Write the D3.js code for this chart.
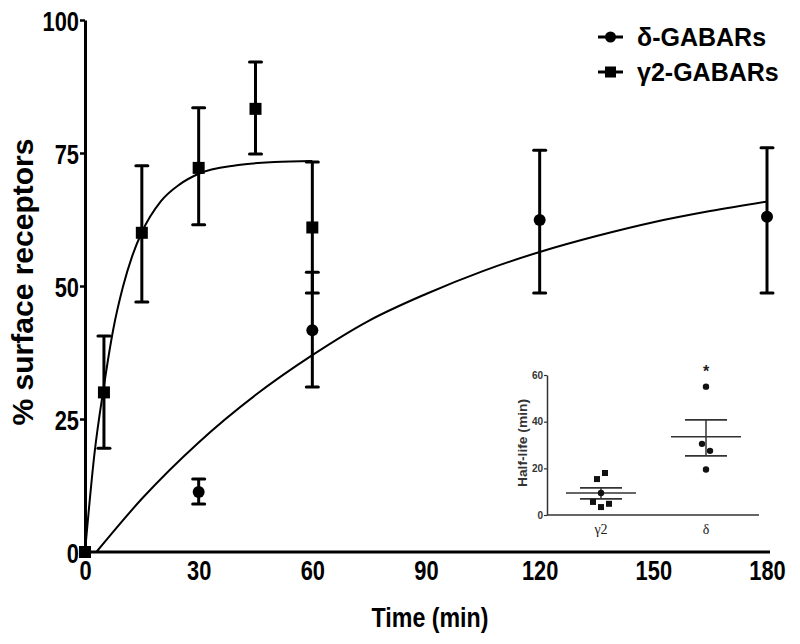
<!DOCTYPE html>
<html>
<head>
<meta charset="utf-8">
<script src="https://cdn.jsdelivr.net/npm/d3@7"></script>
<style>
  html, body { margin: 0; padding: 0; background: #fff; }
  svg { display: block; }
  .narrow { font-family: "Liberation Sans Narrow", "Arial Narrow", "Liberation Sans", Arial, sans-serif; font-weight: bold; }
  .wide { font-family: "Liberation Sans", Arial, sans-serif; font-weight: bold; }
  .serif { font-family: "Liberation Serif", "Times New Roman", serif; }
</style>
</head>
<body>
<script>
// ---------- Data ----------
const xTicks = [0, 30, 60, 90, 120, 150, 180];
const yTicks = [0, 25, 50, 75, 100];

// gamma2-GABARs (squares)
const gammaTime = [0, 5, 15, 30, 45, 60];
const gammaMean = [0, 30, 60, 72.2, 83.3, 61];
const gammaLow  = [0, 19.5, 47, 61.5, 74.8, 48.7];
const gammaHigh = [0, 40.6, 72.6, 83.5, 92.1, 73.3];

// delta-GABARs (circles)
const deltaTime = [0, 30, 60, 120, 180];
const deltaMean = [0, 11.3, 41.7, 62.4, 63];
const deltaLow  = [0, 9, 31, 48.7, 48.7];
const deltaHigh = [0, 13.7, 52.6, 75.5, 76];

// fitted curves
const gammaFitTime  = [0, 2.5, 5, 7.5, 10, 12.5, 15, 20, 25, 30, 40, 50, 60];
const gammaFitValue = [0, 18.5, 31.2, 42, 49.8, 55.7, 60.1, 65.9, 69.1, 71.1, 72.7, 73.3, 73.5];
const deltaFitTime  = [3, 15, 30, 45, 60, 75, 90, 105, 120, 135, 150, 165, 180];
const deltaFitValue = [0, 10, 20.6, 29.5, 37, 43.5, 48.5, 52.8, 56.4, 59.4, 62, 64.1, 65.9];

// inset: half-life (min)
const insetCategories = ["γ2", "δ"];
const insetTicks = [0, 20, 40, 60];
const gammaHalfLife = [15.4, 18, 9.4, 5.6, 3.4, 4.8];
const gammaHalfOffset = [-1, 1, 0, -2, 0, 2];
const deltaHalfLife = [55, 30.5, 27.5, 19.5];
const deltaHalfOffset = [0, -1, 1, 0];
const halfMean = [9.4, 33.5];
const halfSemLow = [6.9, 25.3];
const halfSemHigh = [11.6, 40.8];

const legendLabels = ["δ-GABARs", "γ2-GABARs"];

// ---------- Drawing ----------
const W = 800, H = 644;
const svg = d3.select("body").append("svg").attr("width", W).attr("height", H);

const x = d3.scaleLinear().domain([0, 180]).range([85, 767]);
const y = d3.scaleLinear().domain([0, 100]).range([552, 20]);

const NARROW = 0.78;

// axes
const yAxis = svg.append("g").attr("transform", `translate(${x(0)},0)`)
  .call(d3.axisLeft(y).tickValues(yTicks).tickSize(5).tickPadding(1).tickSizeOuter(0));
yAxis.select(".domain").attr("stroke-width", 3).attr("stroke", "#000");
yAxis.selectAll(".tick line").attr("stroke-width", 2.5).attr("stroke", "#000");
yAxis.selectAll(".tick text").attr("class", "narrow").attr("font-size", 28).attr("fill", "#000")
  .attr("dy", "0.36em").attr("x", -6 / NARROW).attr("transform", `scale(${NARROW},1)`);

const xAxis = svg.append("g").attr("transform", `translate(0,${y(0)})`)
  .call(d3.axisBottom(x).tickValues(xTicks).tickSize(0).tickPadding(8).tickSizeOuter(0));
xAxis.select(".domain").attr("stroke-width", 3).attr("stroke", "#000").attr("d", `M${x(0)},0H770`);
xAxis.selectAll(".tick text").attr("class", "narrow").attr("font-size", 28).attr("fill", "#000")
  .attr("transform", `scale(${NARROW},1)`);

// axis titles
svg.append("text").attr("class", "narrow").attr("font-size", 27)
  .attr("transform", "translate(430,627) scale(0.86,1)").attr("text-anchor", "middle").text("Time (min)");
svg.append("text").attr("class", "wide").attr("font-size", 30)
  .attr("transform", "translate(33,282) rotate(-90)").attr("text-anchor", "middle")
  .text("% surface receptors");

// fitted curves
const line = d3.line().x(d => x(d[0])).y(d => y(d[1])).curve(d3.curveMonotoneX);
svg.append("path").datum(gammaFitTime.map((t, i) => [t, gammaFitValue[i]]))
  .attr("d", line).attr("fill", "none").attr("stroke", "#000").attr("stroke-width", 2);
svg.append("path").datum(deltaFitTime.map((t, i) => [t, deltaFitValue[i]]))
  .attr("d", line).attr("fill", "none").attr("stroke", "#000").attr("stroke-width", 2);

// error bars
function errorBars(times, lows, highs) {
  const g = svg.append("g").attr("stroke", "#000").attr("stroke-width", 3);
  times.forEach((t, i) => {
    if (highs[i] === lows[i]) return;
    g.append("line").attr("x1", x(t)).attr("x2", x(t)).attr("y1", y(lows[i])).attr("y2", y(highs[i]));
    [lows[i], highs[i]].forEach(v => {
      g.append("line").attr("x1", x(t) - 6).attr("x2", x(t) + 6).attr("y1", y(v)).attr("y2", y(v))
        .attr("stroke-linecap", "round");
    });
  });
}
errorBars(gammaTime, gammaLow, gammaHigh);
errorBars(deltaTime, deltaLow, deltaHigh);

// markers
svg.append("g").selectAll("rect").data(gammaTime.map((t, i) => [t, gammaMean[i]])).join("rect")
  .attr("x", d => x(d[0]) - 6).attr("y", d => y(d[1]) - 6).attr("width", 12).attr("height", 12).attr("fill", "#000");
svg.append("g").selectAll("circle").data(deltaTime.map((t, i) => [t, deltaMean[i]])).join("circle")
  .attr("cx", d => x(d[0])).attr("cy", d => y(d[1])).attr("r", 6).attr("fill", "#000");

// legend
const leg = svg.append("g");
legendLabels.forEach((lab, i) => {
  const ly = 37 + i * 35;
  leg.append("line").attr("x1", 598).attr("x2", 623).attr("y1", ly).attr("y2", ly)
    .attr("stroke", "#000").attr("stroke-width", 3);
  if (i === 0) leg.append("circle").attr("cx", 610.5).attr("cy", ly).attr("r", 5.5).attr("fill", "#000");
  else leg.append("rect").attr("x", 605).attr("y", ly - 5.5).attr("width", 11).attr("height", 11).attr("fill", "#000");
  leg.append("text").attr("class", "narrow").attr("font-size", 25)
    .attr("x", 637).attr("y", ly + 9).text(lab);
});

// ---------- Inset ----------
const ix = d3.scalePoint().domain(insetCategories).range([601, 706]);
const iy = d3.scaleLinear().domain([0, 60]).range([515, 375]);
const ins = svg.append("g");
const inY = ins.append("g").attr("transform", "translate(547,0)")
  .call(d3.axisLeft(iy).tickValues(insetTicks).tickSize(3).tickPadding(1).tickSizeOuter(0));
inY.select(".domain").attr("stroke", "#333").attr("stroke-width", 1.5);
inY.selectAll(".tick line").attr("stroke", "#333").attr("stroke-width", 1.2);
inY.selectAll(".tick text").attr("class", "wide").attr("font-size", 10).attr("fill", "#333");
ins.append("line").attr("x1", 547).attr("x2", 759).attr("y1", iy(0)).attr("y2", iy(0))
  .attr("stroke", "#333").attr("stroke-width", 1.5);
ins.selectAll("text.cat").data(insetCategories).join("text").attr("class", "serif")
  .attr("font-size", 14).attr("x", d => ix(d)).attr("y", 534).attr("text-anchor", "middle")
  .attr("fill", "#222").text(d => d);
ins.append("text").attr("class", "wide").attr("font-size", 12).attr("fill", "#333")
  .attr("transform", "translate(527,443) rotate(-90)").attr("text-anchor", "middle")
  .attr("textLength", 88).attr("lengthAdjust", "spacingAndGlyphs").text("Half-life (min)");

// mean & SEM
insetCategories.forEach((c, i) => {
  const cx = ix(c);
  ins.append("line").attr("x1", cx - 35).attr("x2", cx + 35).attr("y1", iy(halfMean[i])).attr("y2", iy(halfMean[i]))
    .attr("stroke", "#333").attr("stroke-width", 1.5);
  ins.append("line").attr("x1", cx).attr("x2", cx).attr("y1", iy(halfSemLow[i])).attr("y2", iy(halfSemHigh[i]))
    .attr("stroke", "#333").attr("stroke-width", 1.5);
  [halfSemLow[i], halfSemHigh[i]].forEach(v => {
    ins.append("line").attr("x1", cx - 21).attr("x2", cx + 21).attr("y1", iy(v)).attr("y2", iy(v))
      .attr("stroke", "#333").attr("stroke-width", 1.8);
  });
});
// points
gammaHalfLife.forEach((v, i) => {
  const cx = ix("γ2") + gammaHalfOffset[i] * 4;
  if (i === 2) ins.append("circle").attr("cx", cx).attr("cy", iy(v)).attr("r", 3.2).attr("fill", "#111");
  else ins.append("rect").attr("x", cx - 3).attr("y", iy(v) - 3).attr("width", 6).attr("height", 6).attr("fill", "#111");
});
deltaHalfLife.forEach((v, i) => {
  ins.append("circle").attr("cx", ix("δ") + deltaHalfOffset[i] * 4).attr("cy", iy(v)).attr("r", 3.2).attr("fill", "#111");
});
ins.append("text").attr("class", "wide").attr("font-size", 16).attr("x", ix("δ")).attr("y", 377)
  .attr("text-anchor", "middle").attr("fill", "#222").text("*");
</script>
</body>
</html>
